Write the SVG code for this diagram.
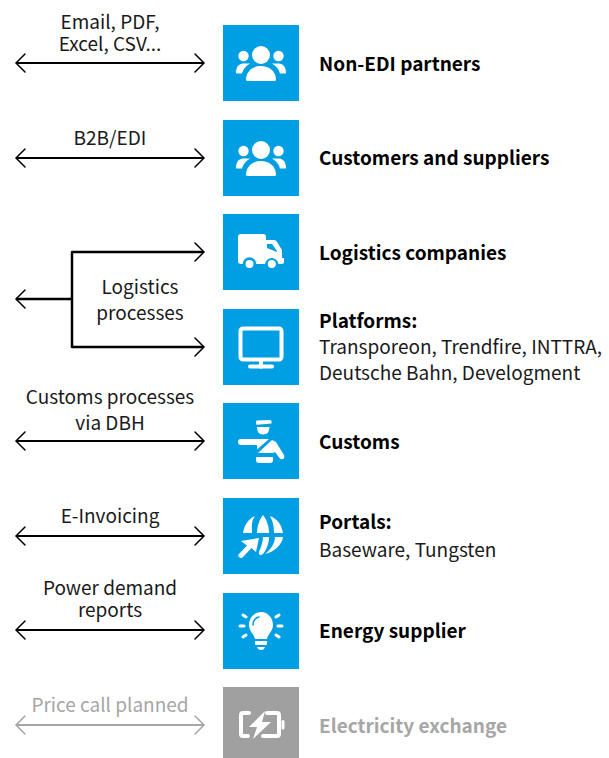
<svg xmlns="http://www.w3.org/2000/svg" width="609" height="758" viewBox="0 0 609 758">
<style>
text{font-family:"Noto Sans CJK SC","Noto Sans","Liberation Sans",sans-serif;font-size:19px;fill:#1a1a1a}
.c{text-anchor:middle}
.b{font-weight:700;fill:#000}
.g{fill:#a6a6a6}
.box{fill:#009fe3}
.gbox{fill:#a0a0a0}
.ic{fill:#fff;stroke:none}
.il{fill:none;stroke:#fff;stroke-linecap:round;stroke-linejoin:round}
.con{fill:none;stroke:#000;stroke-width:2.200;stroke-linejoin:round}
.head{fill:none;stroke:#000;stroke-width:1.500;stroke-linecap:round;stroke-linejoin:miter}
.gc{stroke:#a6a6a6}
</style>
<defs>
<g id="people">
<circle class="ic" cx="38" cy="30" r="9"/>
<circle class="ic" cx="20.500" cy="31" r="5.200"/>
<circle class="ic" cx="55.500" cy="31" r="5.200"/>
<path class="ic" d="M23 55C23 46 30 41 38 41S53 46 53 55Q53 56 51 56H25Q23 56 23 55Z"/>
<path class="ic" d="M13 48C13 42 16 38.500 20 38.500H27C23 41 20 44 19 48.500H15Q13 48.500 13 48Z"/>
<path class="ic" d="M63 48C63 42 60 38.500 56 38.500H49C53 41 56 44 57 48.500H61Q63 48.500 63 48Z"/>
</g>
</defs>
<g id="connectors">
<path class="con" d="M16 63H203"/><path class="head" d="M25 54L16 63L25 72M195 54L204 63L195 72"/>
<path class="con" d="M16 158H203"/><path class="head" d="M25 149L16 158L25 167M195 149L204 158L195 167"/>
<path class="con" stroke-width="2.500" style="stroke-width:2.500px" d="M203 252H72V347H203M72 299H16"/><path class="head" d="M195 243L204 252L195 261M195 338L204 347L195 356M25 290L16 299L25 308"/>
<path class="con" d="M16 441H203"/><path class="head" d="M25 432L16 441L25 450M195 432L204 441L195 450"/>
<path class="con" d="M16 536H203"/><path class="head" d="M25 527L16 536L25 545M195 527L204 536L195 545"/>
<path class="con" d="M16 630H203"/><path class="head" d="M25 621L16 630L25 639M195 621L204 630L195 639"/>
<path class="con gc" d="M16 725H203"/><path class="head gc" d="M25 716L16 725L25 734M195 716L204 725L195 734"/>
</g>
<g id="edge-labels">
<text class="c"><tspan x="110" y="29">Email, PDF,</tspan><tspan x="110" y="51">Excel, CSV...</tspan></text>
<text class="c" x="110" y="145">B2B/EDI</text>
<text class="c"><tspan x="140" y="294">Logistics</tspan><tspan x="140" y="320">processes</tspan></text>
<text class="c"><tspan x="110" y="404">Customs processes</tspan><tspan x="110" y="430">via DBH</tspan></text>
<text class="c" x="110" y="523">E-Invoicing</text>
<text class="c"><tspan x="110" y="595">Power demand</tspan><tspan x="110" y="617">reports</tspan></text>
<text class="c g" x="110" y="712">Price call planned</text>
</g>
<g id="non-edi-partners">
<rect class="box" x="223" y="25" width="76" height="76"/>
<use href="#people" x="223" y="25"/>
<text class="b" x="319" y="71">Non-EDI partners</text>
</g>
<g id="customers-suppliers">
<rect class="box" x="223" y="120" width="76" height="76"/>
<use href="#people" x="223" y="120"/>
<text class="b" x="319" y="165">Customers and suppliers</text>
</g>
<g id="logistics-companies">
<rect class="box" x="223" y="214" width="76" height="76"/>
<path class="ic" d="M241 234H263Q266 234 266 237V240H274Q276 240 277 242L282 250V258H284V262Q284 264 282 264H278.500A6.800 6.800 0 0 0 265 264H256.300A6.800 6.800 0 0 0 242.700 264H241Q238 264 238 261V237Q238 234 241 234Z"/>
<path d="M267 244H272L277 251V252L267 248Z" fill="#009fe3"/>
<circle class="ic" cx="249.500" cy="264" r="4"/>
<circle class="ic" cx="271.800" cy="264" r="4"/>
<text class="b" x="319" y="260">Logistics companies</text>
</g>
<g id="platforms">
<rect class="box" x="223" y="309" width="76" height="76"/>
<rect class="il" x="240.500" y="328.500" width="41" height="31" rx="2.500" stroke-width="4"/>
<path class="il" d="M261 361V367M250 366.500H272" stroke-width="4"/>
<text class="b" x="319" y="328">Platforms:</text>
<text><tspan x="319" y="354">Transporeon, Trendfire, INTTRA,</tspan><tspan x="319" y="380">Deutsche Bahn, Develogment</tspan></text>
</g>
<g id="customs">
<rect class="box" x="223" y="403" width="76" height="76"/>
<path class="ic" d="M257 420.500L270 420Q271.500 420 271.500 421.500V423.500L257 424.800Q256 424.800 256 423.500V421.500Q256 420.800 257 420.500Z"/>
<path class="ic" d="M257 427H269.500Q269.500 434.500 263 434.500Q257 434.500 257 427Z"/>
<path class="ic" d="M241 439H269L257 449.500V445H241Q238 445 238 442T241 439Z"/>
<path class="ic" d="M272 440L276 442L284 455Q285 458 283 459T279.500 458L275 452L273 453H258Z"/>
<path class="ic" d="M256 457H273V460Q273 463 270 463H259Q256 463 256 460Z"/>
<text class="b" x="319" y="449">Customs</text>
</g>
<g id="portals">
<rect class="box" x="223" y="498" width="76" height="76"/>
<path class="ic" d="M263 515C267 520 269 527 269 533H257C257 527 259 520 263 515Z"/>
<path class="ic" d="M255 516C251 521 252 527 252 533H243C244 526 248 519 255 516Z"/>
<path class="ic" d="M270 516C278 519 282 526 283 533H274C274 527 273 521 270 516Z"/>
<path class="ic" d="M263 537H269C269 544 266 550 263 554C261 556 258 555 259 552C261 547 263 542 263 537Z"/>
<path class="ic" d="M275 537H283C282 545 274 552 265 554C270 550 275 544 275 537Z"/>
<path class="ic" d="M241 541L259 538L256 552L251.500 548L243 557Q241 559 239 557T240 553L247 545.500Z"/>
<text class="b" x="319" y="529">Portals:</text>
<text x="319" y="557">Baseware, Tungsten</text>
</g>
<g id="energy-supplier">
<rect class="box" x="223" y="593" width="76" height="76"/>
<path class="ic" d="M261 612C268 612 273 618 273 625C273 631 268 634 267 639H255C254 634 249 631 249 625C249 618 254 612 261 612Z"/>
<path d="M253 625C253 621 255 618 259 617" fill="none" stroke="#009fe3" stroke-width="1.500" stroke-linecap="round"/>
<path class="ic" d="M255 641H267V644Q267 645 266 645H256Q255 645 255 644Z"/>
<path class="ic" d="M257 647H265Q264 650 261 650T257 647Z"/>
<path class="il" stroke-width="3" d="M240 626H244M278 626H282M243 615L246 617M279 615L276 617M243 637L246 635M279 637L276 635"/>
<text class="b" x="319" y="638">Energy supplier</text>
</g>
<g id="electricity-exchange">
<rect class="gbox" x="223" y="687" width="76" height="71"/>
<path class="il" stroke-width="4" d="M249 713H243Q241 713 241 715V734Q241 736 243 736H248M267 713H277Q279 713 279 715V734Q279 736 277 736H263"/>
<path class="il" stroke-width="3" d="M283 721.500V728"/>
<path class="ic" d="M265 711L249 727H257L253 739L271 722H262Z"/>
<text class="b g" x="319" y="733">Electricity exchange</text>
</g>
</svg>
